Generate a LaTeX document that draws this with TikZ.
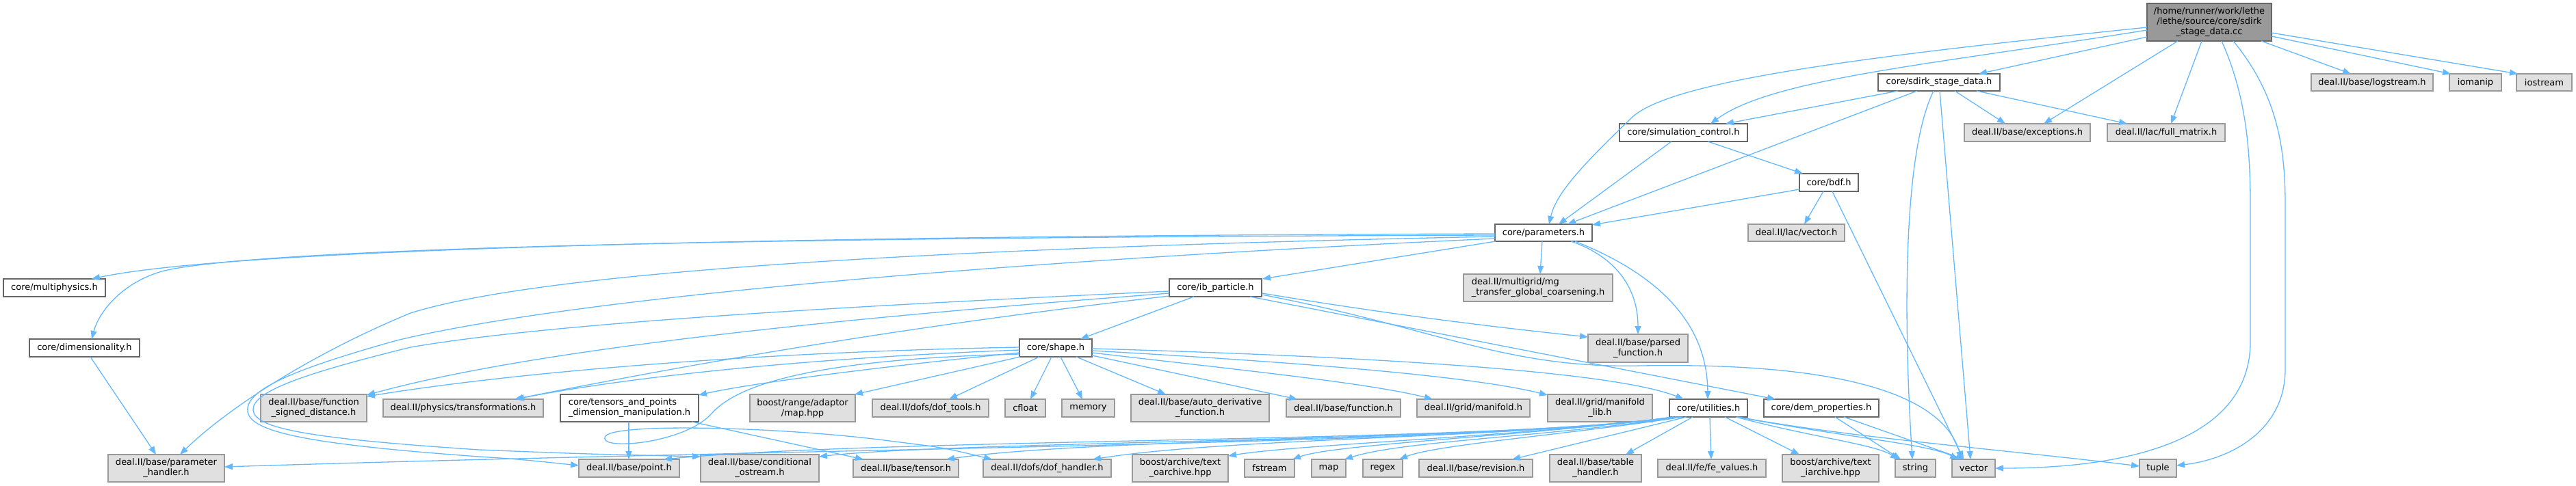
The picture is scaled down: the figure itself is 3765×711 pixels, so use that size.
\documentclass[tikz,border=0pt]{standalone}
\usepackage{fontspec}
\setmainfont{DejaVu Sans}
\usetikzlibrary{arrows.meta,calc}
\definecolor{edgec}{HTML}{63B8FF}
\definecolor{extfill}{HTML}{E0E0E0}
\definecolor{extdraw}{HTML}{999999}
\definecolor{prjdraw}{HTML}{666666}
\definecolor{rootfill}{HTML}{999999}
\begin{document}
\begin{tikzpicture}[x=1pt,y=-1pt,
  box/.style={anchor=north west, inner sep=0pt, outer sep=0pt, line width=1.5pt, font=\fontsize{13}{15}\selectfont, align=center},
  prj/.style={box, draw=prjdraw, fill=white},
  ext/.style={box, draw=extdraw, fill=extfill},
  rootn/.style={box, draw=prjdraw, fill=rootfill},
  edge/.style={draw=edgec, line width=1.3pt, -{Triangle[length=12pt,width=9pt]}},
]
\useasboundingbox (0,0) rectangle (3765,711);
% nodes
\node[rootn, minimum width=182pt, minimum height=55pt] (R) at (3138,5) {/home/runner/work/lethe\\/lethe/source/core/sdirk\\\_stage\_data.cc};
\node[prj, minimum width=178pt, minimum height=25pt] (S) at (2745,108) {core/sdirk\_stage\_data.h};
\node[prj, minimum width=187pt, minimum height=26pt] (C) at (2367,181) {core/simulation\_control.h};
\node[ext, minimum width=184pt, minimum height=26pt] (EXC) at (2871,181) {deal.II/base/exceptions.h};
\node[ext, minimum width=172pt, minimum height=26pt] (FM) at (3080,181) {deal.II/lac/full\_matrix.h};
\node[ext, minimum width=178pt, minimum height=25pt] (LOG) at (3378,108) {deal.II/base/logstream.h};
\node[ext, minimum width=76pt, minimum height=25pt] (IOM) at (3580,108) {iomanip};
\node[ext, minimum width=81pt, minimum height=25pt] (IOS) at (3678,108) {iostream};
\node[prj, minimum width=86pt, minimum height=26pt] (B) at (2630,254) {core/bdf.h};
\node[ext, minimum width=141pt, minimum height=25pt] (LV) at (2555,328) {deal.II/lac/vector.h};
\node[prj, minimum width=142pt, minimum height=25pt] (P) at (2185,328) {core/parameters.h};
\node[prj, minimum width=149pt, minimum height=26pt] (MP) at (5,408) {core/multiphysics.h};
\node[prj, minimum width=161pt, minimum height=26pt] (D) at (43,496) {core/dimensionality.h};
\node[ext, minimum width=170pt, minimum height=40pt] (PH) at (158,665) {deal.II/base/parameter\\\_handler.h};
\node[ext, minimum width=155pt, minimum height=40pt] (FSD) at (381,577) {deal.II/base/function\\\_signed\_distance.h};
\node[ext, minimum width=234pt, minimum height=26pt] (TR) at (560,584) {deal.II/physics/transformations.h};
\node[prj, minimum width=202pt, minimum height=40pt, align=left] (T) at (819,577) {core/tensors\_and\_points\\\_dimension\_manipulation.h};
\node[ext, minimum width=154pt, minimum height=40pt] (BM) at (1096,577) {boost/range/adaptor\\/map.hpp};
\node[ext, minimum width=170pt, minimum height=26pt] (DT) at (1275,584) {deal.II/dofs/dof\_tools.h};
\node[ext, minimum width=59pt, minimum height=26pt] (CF) at (1469,584) {cfloat};
\node[ext, minimum width=77pt, minimum height=26pt] (MEM) at (1552,584) {memory};
\node[ext, minimum width=202pt, minimum height=40pt] (AD) at (1653,577) {deal.II/base/auto\_derivative\\\_function.h};
\node[ext, minimum width=167pt, minimum height=26pt] (FN) at (1880,584) {deal.II/base/function.h};
\node[ext, minimum width=165pt, minimum height=26pt] (MF) at (2071,584) {deal.II/grid/manifold.h};
\node[ext, minimum width=153pt, minimum height=40pt] (ML) at (2262,577) {deal.II/grid/manifold\\\_lib.h};
\node[prj, minimum width=114pt, minimum height=26pt] (U) at (2440,584) {core/utilities.h};
\node[prj, minimum width=168pt, minimum height=26pt] (DM) at (2578,584) {core/dem\_properties.h};
\node[prj, minimum width=135pt, minimum height=26pt] (I) at (1709,408) {core/ib\_particle.h};
\node[ext, minimum width=218pt, minimum height=40pt, align=left] (MG) at (2139,401) {deal.II/multigrid/mg\\\_transfer\_global\_coarsening.h};
\node[ext, minimum width=146pt, minimum height=41pt] (PF) at (2321,489) {deal.II/base/parsed\\\_function.h};
\node[prj, minimum width=106pt, minimum height=26pt] (SH) at (1490,496) {core/shape.h};
\node[ext, minimum width=147pt, minimum height=26pt] (PT) at (846,672) {deal.II/base/point.h};
\node[ext, minimum width=173pt, minimum height=40pt] (CO) at (1024,665) {deal.II/base/conditional\\\_ostream.h};
\node[ext, minimum width=154pt, minimum height=26pt] (TS) at (1247,672) {deal.II/base/tensor.h};
\node[ext, minimum width=187pt, minimum height=26pt] (DH) at (1437,672) {deal.II/dofs/dof\_handler.h};
\node[ext, minimum width=140pt, minimum height=40pt] (OA) at (1655,665) {boost/archive/text\\\_oarchive.hpp};
\node[ext, minimum width=73pt, minimum height=26pt] (FS) at (1819,672) {fstream};
\node[ext, minimum width=50pt, minimum height=26pt] (MAP) at (1917,672) {map};
\node[ext, minimum width=58pt, minimum height=26pt] (RGX) at (1992,672) {regex};
\node[ext, minimum width=166pt, minimum height=26pt] (REV) at (2074,672) {deal.II/base/revision.h};
\node[ext, minimum width=134pt, minimum height=40pt] (TH) at (2265,665) {deal.II/base/table\\\_handler.h};
\node[ext, minimum width=158pt, minimum height=26pt] (FE) at (2423,672) {deal.II/fe/fe\_values.h};
\node[ext, minimum width=141pt, minimum height=40pt] (IA) at (2605,665) {boost/archive/text\\\_iarchive.hpp};
\node[ext, minimum width=59pt, minimum height=26pt] (STR) at (2770,672) {string};
\node[ext, minimum width=63pt, minimum height=26pt] (VEC) at (2853,672) {vector};
\node[ext, minimum width=54pt, minimum height=26pt] (TUP) at (3127,672) {tuple};
% root edges
\draw[edge] ($(R.north west)+(0,35)$) .. controls (2700,85) and (2440,120) .. (2385,172) .. controls (2320,235) and (2275,280) .. ($(P.north west)+(79,0)$);
\draw[edge] ($(R.north west)+(0,39)$) .. controls (2820,95) and (2590,115) .. ($(C.north west)+(133,0)$);
\draw[edge] ($(R.north west)+(0,49)$) -- ($(S.north west)+(147,0)$);
\draw[edge] ($(R.south west)+(45,0)$) -- ($(EXC.north west)+(116,0)$);
\draw[edge] ($(R.south west)+(80,0)$) -- ($(FM.north west)+(93,0)$);
\draw[edge] ($(R.south west)+(109,0)$) .. controls (3283,140) and (3289,220) .. (3289,300) -- (3289,500) .. controls (3289,640) and (3120,685) .. ($(VEC.north east)+(0,13)$);
\draw[edge] ($(R.south west)+(126,0)$) .. controls (3330,140) and (3340,220) .. (3340,300) -- (3340,540) .. controls (3340,630) and (3260,672) .. ($(TUP.north east)+(0,9)$);
\draw[edge] ($(R.south west)+(167,0)$) -- ($(LOG.north west)+(58,0)$);
\draw[edge] ($(R.north east)+(0,48)$) -- ($(IOM.north west)+(2,0)$);
\draw[edge] ($(R.north east)+(0,43)$) -- ($(IOS.north west)+(2,0)$);
% sdirk edges
\draw[edge] ($(S.south west)+(29,0)$) -- ($(C.north west)+(155,0)$);
\draw[edge] ($(S.south west)+(57,0)$) -- ($(P.north west)+(106,0)$);
\draw[edge] ($(S.south west)+(112,0)$) -- ($(EXC.north west)+(60,0)$);
\draw[edge] ($(S.south west)+(144,0)$) -- ($(FM.north west)+(29,0)$);
\draw[edge] ($(S.south west)+(81,0)$) .. controls (2783,220) and (2781,450) .. ($(STR.north west)+(25,0)$);
\draw[edge] ($(S.south west)+(90,0)$) -- ($(VEC.north west)+(27,0)$);
% simulation control
\draw[edge] ($(C.south west)+(76,0)$) -- ($(P.north west)+(93,0)$);
\draw[edge] ($(C.south west)+(129,0)$) -- ($(B.north west)+(5,0)$);
% bdf
\draw[edge] ($(B.north west)+(0,23)$) -- ($(P.north east)+(0,1)$);
\draw[edge] ($(B.south west)+(35,0)$) -- ($(LV.north west)+(82,0)$);
\draw[edge] ($(B.south west)+(48,0)$) -- ($(VEC.north west)+(17,0)$);
% parameters
\draw[edge] ($(P.north west)+(0,14)$) .. controls (1200,345) and (350,362) .. ($(MP.north east)+(-20,0)$);
\draw[edge] ($(P.north west)+(0,16)$) .. controls (1200,347) and (400,360) .. (240,396) .. controls (180,412) and (145,455) .. ($(D.north west)+(91,0)$);
\draw[edge] ($(P.north west)+(0,18)$) .. controls (1400,362) and (800,395) .. (600,458) .. controls (450,520) and (330,600) .. ($(PH.north west)+(105,0)$);
\draw[edge] ($(P.north west)+(0,21)$) .. controls (1400,385) and (820,440) .. (580,498) .. controls (430,540) and (358,570) .. (362,602) .. controls (366,632) and (450,650) .. (700,668) .. controls (760,672) .. ($(PT.west)+(0,-4)$);
\draw[edge] ($(P.south west)+(1,0)$) -- ($(I.north east)+(1,0)$);
\draw[edge] ($(P.south west)+(69,0)$) -- ($(MG.north west)+(112,0)$);
\draw[edge] ($(P.south west)+(111,0)$) .. controls (2360,375) and (2394,420) .. ($(PF.north west)+(73,0)$);
\draw[edge] ($(P.south east)+(-25,0)$) .. controls (2420,400) and (2495,470) .. ($(U.north west)+(56,0)$);
% ib_particle
\draw[edge] ($(I.south west)+(36,0)$) -- ($(SH.north west)+(89,0)$);
\draw[edge] ($(I.north east)+(1,21)$) .. controls (2000,455) and (2150,475) .. ($(PF.north west)+(0,4)$);
\draw[edge] ($(I.south west)+(118,0)$) -- ($(DM.north west)+(17,0)$);
\draw[edge] ($(I.north east)+(0,23)$) .. controls (2100,480) and (2200,540) .. (2400,535) .. controls (2700,530) and (2840,580) .. ($(VEC.north west)+(14,0)$);
\draw[edge] ($(I.north west)+(0,21)$) .. controls (1300,460) and (800,505) .. ($(FSD.north east)+(0,1)$);
\draw[edge] ($(I.north west)+(0,25)$) .. controls (1300,480) and (1000,535) .. ($(TR.north west)+(192,0)$);
\draw[edge] ($(I.north west)+(0,18)$) .. controls (1300,445) and (820,470) .. (600,508) .. controls (450,545) and (368,572) .. (370,600) .. controls (372,628) and (460,642) .. (700,658) .. controls (850,664) .. ($(CO.north west)+(0,3)$);
% shape
\draw[edge] ($(SH.north west)+(0,12)$) .. controls (1100,515) and (750,545) .. ($(FSD.north east)+(0,3)$);
\draw[edge] ($(SH.north west)+(0,16)$) .. controls (1150,525) and (900,555) .. ($(TR.north west)+(194,0)$);
\draw[edge] ($(SH.north west)+(0,20)$) .. controls (1300,535) and (1100,560) .. ($(T.north east)+(0,1)$);
\draw[edge] ($(SH.south west)+(1,0)$) -- ($(BM.north east)+(-1,0)$);
\draw[edge] ($(SH.south west)+(29,0)$) -- ($(DT.north west)+(112,0)$);
\draw[edge] ($(SH.south west)+(47,0)$) -- ($(CF.north west)+(37,0)$);
\draw[edge] ($(SH.south west)+(60,0)$) -- ($(MEM.north west)+(30,0)$);
\draw[edge] ($(SH.south west)+(83,0)$) -- ($(AD.north west)+(51,0)$);
\draw[edge] ($(SH.south east)+(0,-2)$) -- ($(FN.north west)+(16,0)$);
\draw[edge] ($(SH.north east)+(0,20)$) .. controls (1800,540) and (2000,560) .. ($(MF.north west)+(23,0)$);
\draw[edge] ($(SH.north east)+(0,17)$) .. controls (1900,530) and (2150,550) .. ($(ML.north west)+(0,1)$);
\draw[edge] ($(SH.north east)+(0,14)$) .. controls (1950,520) and (2350,540) .. ($(U.north west)+(21,0)$);
\draw[edge] ($(SH.north west)+(0,22)$) .. controls (1200,525) and (1080,560) .. (1040,605) .. controls (1000,650) and (870,660) .. (885,638) .. controls (900,618) and (1150,625) .. (1300,645) .. controls (1380,655) .. ($(DH.north west)+(13,0)$);
% tensors and points
\draw[edge] ($(T.south west)+(100,0)$) -- ($(PT.north west)+(73,0)$);
\draw[edge] ($(T.south east)+(-10,0)$) -- ($(TS.north west)+(15,0)$);
% dimensionality
\draw[edge] ($(D.south west)+(89,0)$) -- ($(PH.north west)+(70,0)$);
% utilities
\draw[edge] ($(U.south west)+(3,0)$) .. controls (2200,650) and (1200,655) .. ($(PH.east)+(0,-2)$);
\draw[edge] ($(U.south west)+(5,0)$) .. controls (2200,648) and (1300,640) .. ($(PT.north east)+(-23,0)$);
\draw[edge] ($(U.south west)+(7,0)$) .. controls (2200,646) and (1400,645) .. ($(CO.north east)+(0,3)$);
\draw[edge] ($(U.south west)+(9,0)$) .. controls (2200,644) and (1600,640) .. ($(TS.north west)+(136,0)$);
\draw[edge] ($(U.south west)+(11,0)$) .. controls (2200,642) and (1800,640) .. ($(DH.north west)+(160,0)$);
\draw[edge] ($(U.south west)+(13,0)$) .. controls (2200,640) and (1900,650) .. ($(OA.north east)+(0,2)$);
\draw[edge] ($(U.south west)+(15,0)$) .. controls (2200,640) and (1950,650) .. ($(FS.north west)+(70,0)$);
\draw[edge] ($(U.south west)+(17,0)$) .. controls (2250,640) and (2050,645) .. ($(MAP.north west)+(48,0)$);
\draw[edge] ($(U.south west)+(19,0)$) .. controls (2300,635) and (2100,650) .. ($(RGX.north west)+(53,0)$);
\draw[edge] ($(U.south west)+(25,0)$) -- ($(REV.north west)+(136,0)$);
\draw[edge] ($(U.south west)+(34,0)$) -- ($(TH.north west)+(111,0)$);
\draw[edge] ($(U.south west)+(59,0)$) -- ($(FE.north west)+(78,0)$);
\draw[edge] ($(U.south west)+(81,0)$) -- ($(IA.north west)+(25,0)$);
\draw[edge] ($(U.south west)+(97,0)$) .. controls (2650,640) and (2740,650) .. ($(STR.north west)+(5,0)$);
\draw[edge] ($(U.south west)+(99,0)$) .. controls (2700,640) and (2820,650) .. ($(VEC.north west)+(9,0)$);
\draw[edge] ($(U.south east)+(-13,0)$) .. controls (2700,640) and (2950,660) .. ($(TUP.west)+(0,-3)$);
% dem properties
\draw[edge] ($(DM.south west)+(104,0)$) -- ($(STR.north west)+(8,0)$);
\draw[edge] ($(DM.south west)+(117,0)$) -- ($(VEC.north west)+(18,0)$);
\end{tikzpicture}
\end{document}
